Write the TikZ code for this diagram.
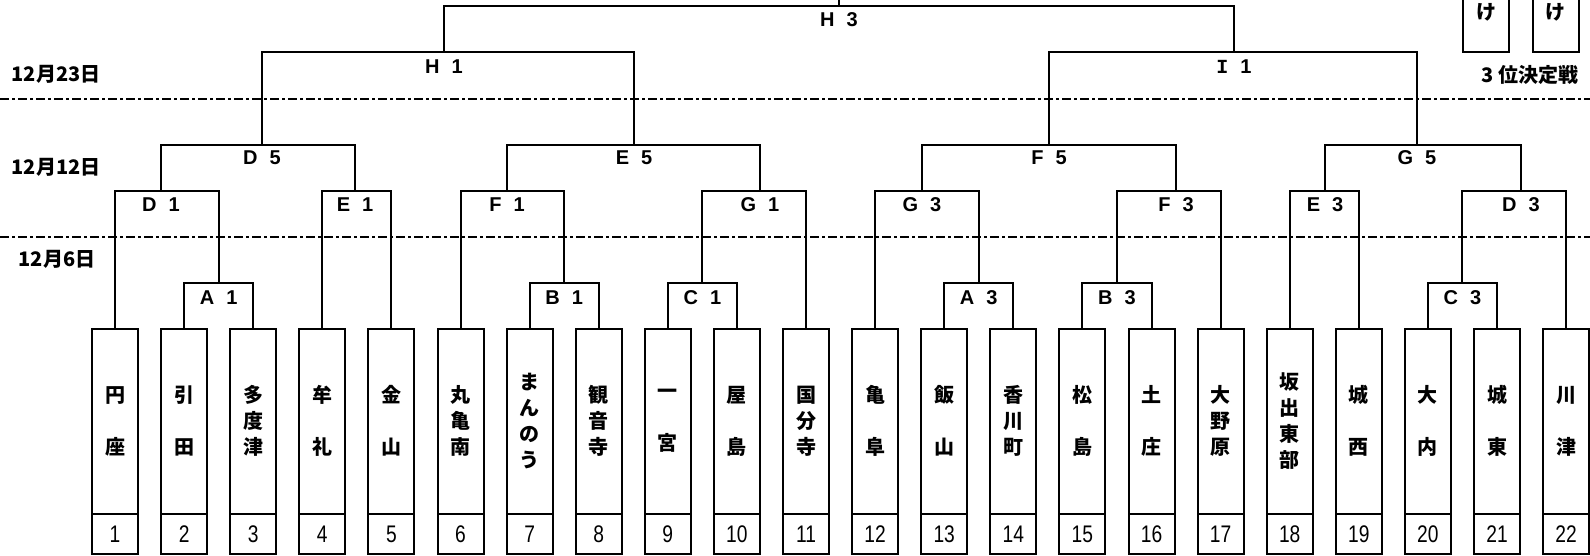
\documentclass[tikz,border=0pt]{standalone}
\usepackage{fontspec}
\newfontfamily\jp{Noto Sans CJK JP}
\newfontfamily\lat{Liberation Sans}
\newfontfamily\latmono{Liberation Mono}
\newfontfamily\numf{Liberation Sans}[FakeStretch=0.8]
\usetikzlibrary{calc}
\tikzset{
  br/.style={line width=2pt},
  teambox/.style={draw, line width=2pt, minimum width=46pt, minimum height=225pt, inner sep=0pt},
  smallbox/.style={draw, line width=2pt, minimum width=46pt, minimum height=70pt, inner sep=0pt},
  tname/.style={font=\jp\bfseries\fontsize{20}{26}\selectfont, align=center, inner sep=0pt},
  tnum/.style={font=\numf\fontsize{24}{24}\selectfont, inner sep=0pt},
  rlab/.style={font=\lat\bfseries\fontsize{20}{20}\selectfont, inner sep=0pt},
  datelab/.style={font=\jp\bfseries\fontsize{20}{20}\selectfont, inner sep=0pt},
  sepline/.style={line width=1.5pt, dash pattern=on 9pt off 3pt on 3pt off 3pt},
}
\newcommand\rl[2]{#1\hspace{0.6em}#2}
\begin{document}
\begin{tikzpicture}[x=1pt,y=-1pt]
\useasboundingbox (0,0) rectangle (1590,556);
% separators
\draw[sepline] (0,99) -- (1590,99);
\draw[sepline] (0,237) -- (1590,237);
% dates
\node[datelab] (d23) at (56,74) {12月23日};
\node[datelab] (d12) at (56,167) {12月12日};
\node[datelab] (d6) at (57,259) {12月6日};
% team boxes
\foreach \i/\nm in {1/{円\\[26pt]座},2/{引\\[26pt]田},3/{多\\度\\津},4/{牟\\[26pt]礼},5/{金\\[26pt]山},
  6/{丸\\亀\\南},7/{ま\\ん\\の\\う},8/{観\\音\\寺},9/{一\\[26pt]宮},10/{屋\\[26pt]島},11/{国\\分\\寺},
  12/{亀\\[26pt]阜},13/{飯\\[26pt]山},14/{香\\川\\町},15/{松\\[26pt]島},16/{土\\[26pt]庄},17/{大\\野\\原},
  18/{坂\\出\\東\\部},19/{城\\[26pt]西},20/{大\\[26pt]内},21/{城\\[26pt]東},22/{川\\[26pt]津}}{
  \pgfmathsetmacro\cx{115+69.1*(\i-1)}
  \node[teambox] (t\i) at (\cx,441.5) {};
  \node[tname] (n\i) at (\cx,421) {\nm};
  \draw[br] (\cx-23,513.5) -- (\cx+23,513.5);
  \node[tnum] (k\i) at (\cx,534) {\i};
}
% bracket coordinates
\coordinate (A1) at (218.65,283);
\coordinate (B1) at (564.15,283);
\coordinate (C1) at (702.35,283);
\coordinate (A3) at (978.75,283);
\coordinate (B3) at (1116.95,283);
\coordinate (C3) at (1462.45,283);
\coordinate (D1) at (161,191);
\coordinate (E1) at (355,191);
\coordinate (F1) at (507,191);
\coordinate (G1) at (760,191);
\coordinate (G3) at (922,191);
\coordinate (F3) at (1176,191);
\coordinate (E3) at (1325,191);
\coordinate (D3) at (1521,191);
\coordinate (D5) at (262,145);
\coordinate (E5) at (634,145);
\coordinate (F5) at (1049,145);
\coordinate (G5) at (1417,145);
\coordinate (H1) at (444,52);
\coordinate (I1) at (1234,52);
\coordinate (H3) at (839,6);
\coordinate (top) at (839,-10);
% round 1
\draw[br] (t2.north) |- (A1) -| (t3.north);
\draw[br] (t7.north) |- (B1) -| (t8.north);
\draw[br] (t9.north) |- (C1) -| (t10.north);
\draw[br] (t13.north) |- (A3) -| (t14.north);
\draw[br] (t15.north) |- (B3) -| (t16.north);
\draw[br] (t20.north) |- (C3) -| (t21.north);
% round 2
\draw[br] (t1.north) |- (D1) -| (A1);
\draw[br] (t4.north) |- (E1) -| (t5.north);
\draw[br] (t6.north) |- (F1) -| (B1);
\draw[br] (C1) |- (G1) -| (t11.north);
\draw[br] (t12.north) |- (G3) -| (A3);
\draw[br] (B3) |- (F3) -| (t17.north);
\draw[br] (t18.north) |- (E3) -| (t19.north);
\draw[br] (C3) |- (D3) -| (t22.north);
% round 3
\draw[br] (D1) |- (D5) -| (E1);
\draw[br] (F1) |- (E5) -| (G1);
\draw[br] (G3) |- (F5) -| (F3);
\draw[br] (E3) |- (G5) -| (D3);
% semi / final
\draw[br] (D5) |- (H1) -| (E5);
\draw[br] (F5) |- (I1) -| (G5);
\draw[br] (H1) |- (H3) -| (I1);
\draw[br] (H3) -- (top);
% labels
\node[rlab] (lA1) at (218.65,297.5) {\rl{A}{1}};
\node[rlab] (lB1) at (564.15,297.5) {\rl{B}{1}};
\node[rlab] (lC1) at (702.35,297.5) {\rl{C}{1}};
\node[rlab] (lA3) at (978.75,297.5) {\rl{A}{3}};
\node[rlab] (lB3) at (1116.95,297.5) {\rl{B}{3}};
\node[rlab] (lC3) at (1462.45,297.5) {\rl{C}{3}};
\node[rlab] (lD1) at (161,204.5) {\rl{D}{1}};
\node[rlab] (lE1) at (355,204.5) {\rl{E}{1}};
\node[rlab] (lF1) at (507,204.5) {\rl{F}{1}};
\node[rlab] (lG1) at (760,204.5) {\rl{G}{1}};
\node[rlab] (lG3) at (922,204.5) {\rl{G}{3}};
\node[rlab] (lF3) at (1176,204.5) {\rl{F}{3}};
\node[rlab] (lE3) at (1325,204.5) {\rl{E}{3}};
\node[rlab] (lD3) at (1521,204.5) {\rl{D}{3}};
\node[rlab] (lD5) at (262,158) {\rl{D}{5}};
\node[rlab] (lE5) at (634,158) {\rl{E}{5}};
\node[rlab] (lF5) at (1049,158) {\rl{F}{5}};
\node[rlab] (lG5) at (1417,158) {\rl{G}{5}};
\node[rlab] (lH1) at (444,66.5) {\rl{H}{1}};
\node[rlab] (lI1) at (1234,66.5) {\rl{{\latmono I}}{1}};
\node[rlab] (lH3) at (839,20) {\rl{H}{3}};
% third place
\node[smallbox] (p1) at (1486,17) {};
\node[smallbox] (p2) at (1555.5,17) {};
\node[tname] (q1) at (1486,12) {け};
\node[tname] (q2) at (1555.5,12) {け};
\node[datelab] (third) at (1530,75) {3\hspace{5pt}位決定戦};
\end{tikzpicture}
\end{document}
